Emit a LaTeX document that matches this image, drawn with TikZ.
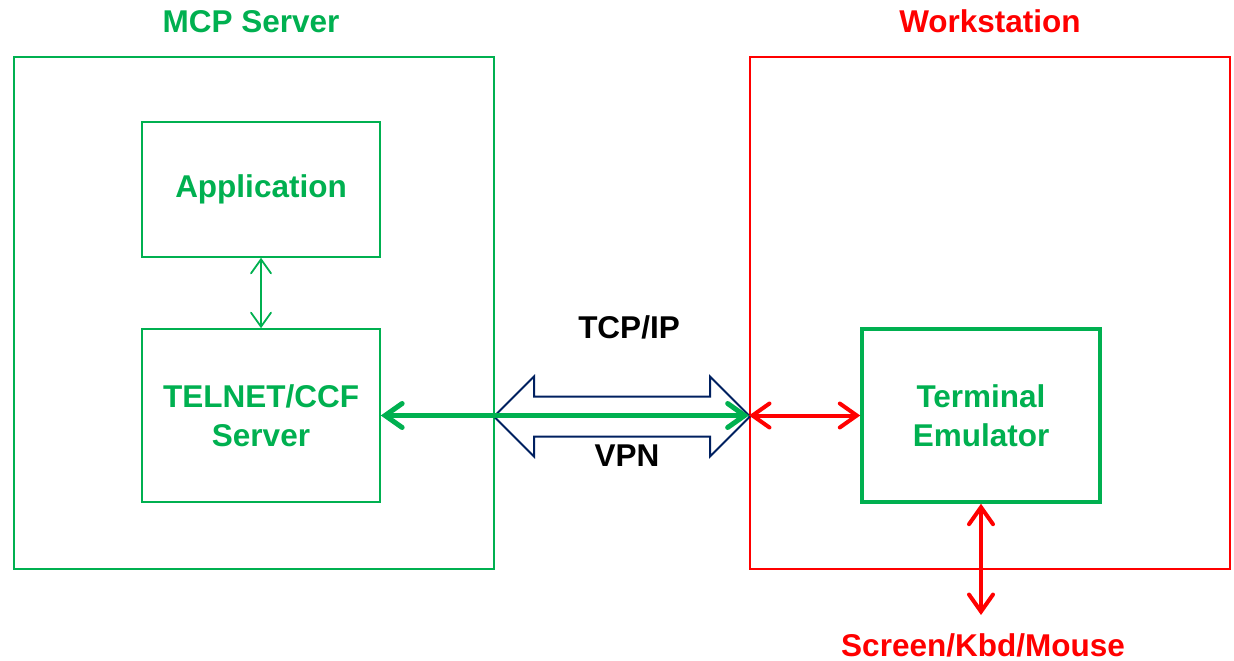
\documentclass[tikz,border=0pt]{standalone}
\usepackage{fontspec}
\setmainfont{Liberation Sans}
\usetikzlibrary{arrows.meta}
\definecolor{mgreen}{RGB}{0,176,80}
\definecolor{mred}{RGB}{255,0,0}
\definecolor{mnavy}{RGB}{0,32,96}
\tikzset{
  mybarb/.tip={Straight Barb[length=17pt, width=24pt, line cap=round]},
  mythinbarb/.tip={Straight Barb[length=14pt, width=20pt, line cap=round]}}
\begin{document}
\begin{tikzpicture}[x=1pt,y=-1pt,
  lbl/.style={font=\fontsize{31.5}{39}\selectfont\bfseries, inner sep=0pt},
  bigbox/.style={draw, line width=2pt, minimum width=480pt, minimum height=512pt, inner sep=0pt},
  inbox/.style={draw=mgreen, text=mgreen, line width=1.6pt, minimum width=238pt, align=center, inner sep=0pt, font=\fontsize{31.5}{39}\selectfont\bfseries}]
\useasboundingbox (0,0) rectangle (1234,661);
% big boxes
\node[bigbox, draw=mgreen] (mcp) at (254,313) {};
\node[bigbox, draw=mred] (ws) at (990,313) {};
\node[lbl, text=mgreen, anchor=base] (mcpt) at (251,33) {MCP Server};
\node[lbl, text=mred, anchor=base] (wst) at (990,33) {Workstation};
% inner boxes
\node[inbox, minimum height=135pt] (app) at (261,189.5) {Application};
\node[inbox, minimum height=173pt] (tel) at (261,415.5) {TELNET/CCF\\Server};
\node[inbox, line width=3.5pt, minimum height=173pt] (term) at (981,415.5) {Terminal\\Emulator};
% app <-> telnet
\draw[mgreen, line width=1.8pt, {mythinbarb}-{mythinbarb}] (app.south) -- (tel.north);
% hollow double arrow
\coordinate (tl) at (494,416.5);
\coordinate (tr) at (750,416.5);
\draw[mnavy, line width=2pt, line join=miter]
  (tl) -- (534,376.5) -- (534,396.5) -- (710,396.5) -- (710,376.5) -- (tr)
  -- (710,456.5) -- (710,436.5) -- (534,436.5) -- (534,456.5) -- cycle;
% green thick arrow
\draw[mgreen, line width=5pt, {mybarb}-{mybarb}] (tel.east) -- (tel.east -| ws.west);
% red arrow to terminal
\draw[mred, line width=4pt, {mybarb}-{mybarb}] (term.west -| ws.west) -- (term.west);
% red vertical arrow
\node[lbl, text=mred, anchor=base] (kbd) at (983,656) {Screen/Kbd/Mouse};
\coordinate (kbdtop) at (981,615);
\draw[mred, line width=4pt, {mybarb}-{mybarb}] (term.south) -- (kbdtop);
% labels
\node[lbl, anchor=base] (tcp) at (629,338) {TCP/IP};
\node[lbl, anchor=base] (vpn) at (627,466) {VPN};
\end{tikzpicture}
\end{document}
